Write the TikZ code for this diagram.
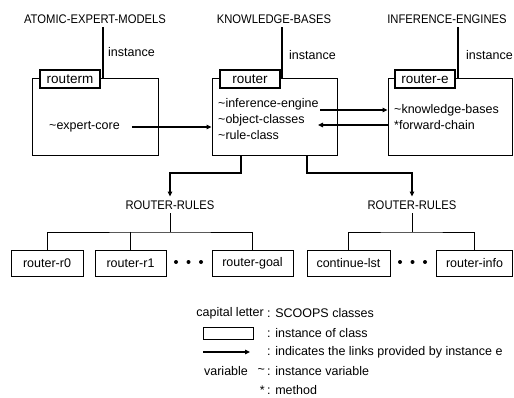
\documentclass[tikz,border=0pt]{standalone}
\usepackage{fontspec}
\setmainfont{Liberation Sans}
\newfontfamily\capsfont[FakeStretch=0.9]{Liberation Sans}
\usetikzlibrary{arrows.meta}

\begin{document}
\begin{tikzpicture}[x=1pt,y=-1pt,
  title/.style={font=\capsfont\fontsize{12.5}{14}\selectfont, inner sep=0pt, outer sep=4pt},
  txt/.style={font=\fontsize{12.5}{14}\selectfont, inner sep=0pt},
  frame/.style={draw, line width=0.9pt, inner sep=0pt},
  tabbox/.style={draw, fill=white, line width=1.1pt, inner sep=0pt,
    minimum height=18pt, font=\fontsize{13.5}{15}\selectfont},
  leaf/.style={draw, line width=0.9pt, inner sep=0pt, minimum height=26pt,
    font=\fontsize{12.5}{14}\selectfont},
  classline/.style={line width=1.6pt},
  link/.style={line width=1.1pt, -{Triangle[length=5pt,width=4.5pt]}},
  tree/.style={line width=0.9pt},
  dot/.style={circle, fill=black, inner sep=0pt, minimum size=4pt}
]
\useasboundingbox (0,0) rectangle (514,398);

% ---- classes on top ----
\node[title] (atomic) at (95,19) {ATOMIC-EXPERT-MODELS};
\node[title] (kb) at (274,19) {KNOWLEDGE-BASES};
\node[title] (ie) at (447,19) {INFERENCE-ENGINES};

% ---- instance frames ----
\node[frame, minimum width=126pt, minimum height=77pt] (mbox) at (95,116.5) {};
\node[frame, minimum width=125pt, minimum height=77pt] (rbox) at (274.5,116.5) {};
\node[frame, minimum width=124pt, minimum height=77pt] (ebox) at (450,116.5) {};

\node[tabbox, minimum width=60pt] (mtab) at (70,79) {routerm};
\node[tabbox, minimum width=60pt] (rtab) at (250,79) {router};
\node[tabbox, minimum width=60pt] (etab) at (425,79) {router-e};

% instance links from the classes
\coordinate (ja) at (103,78);
\coordinate (jk) at (282,78);
\coordinate (je) at (458,78);
\draw[classline] (ja |- atomic.south) -- (ja);
\draw[classline] (jk |- kb.south) -- (jk);
\draw[classline] (je |- ie.south) -- (je);
\node[txt, anchor=west] (ia) at (108,52) {instance};
\node[txt, anchor=west] (ik) at (289,55) {instance};
\node[txt, anchor=west] (ii) at (466,55) {instance};

% ---- contents ----
\node[txt, anchor=west] (core) at (49,127) {\textasciitilde expert-core};

\node[txt, anchor=west] (infeng) at (218,104) {\textasciitilde inference-engine};
\node[txt, anchor=west] (objcls) at (218,120) {\textasciitilde object-classes};
\node[txt, anchor=west] (rulecls) at (218,135) {\textasciitilde rule-class};

\node[txt, anchor=west] (kbases) at (394,110) {\textasciitilde knowledge-bases};
\node[txt, anchor=west] (fwd) at (394,125) {*forward-chain};

% links between instances
\draw[link] (core.east) ++(12,0) coordinate (cs) -- (cs -| rbox.west);
\coordinate (ra) at (320,110);
\coordinate (rb) at (318,125);
\draw[link] (ra) -- (ra -| ebox.west);
\draw[link] (rb -| ebox.west) -- (rb);

% ---- rule classes ----
\node[title] (rulesL) at (170,205) {ROUTER-RULES};
\node[title] (rulesR) at (412,205) {ROUTER-RULES};

\coordinate (dl) at (241,173);
\coordinate (dr) at (307,173);
\draw[link] (dl |- rbox.south) -- (dl) -| (rulesL.north);
\draw[link] (dr |- rbox.south) -- (dr) -| (rulesR.north);

% ---- rule instances ----
\node[leaf, minimum width=72pt] (r0) at (47,263) {router-r0};
\node[leaf, minimum width=71pt] (r1) at (130.5,263) {router-r1};
\node[leaf, minimum width=81pt] (rg) at (252.5,263) {router-goal};
\node[leaf, minimum width=83pt] (cl) at (348.5,263) {continue-lst};
\node[leaf, minimum width=76pt] (ri) at (474.5,263) {router-info};

\node[dot] (d1) at (176,262) {};
\node[dot] (d2) at (188.5,262) {};
\node[dot] (d3) at (201,262) {};
\node[dot] (d4) at (400,262) {};
\node[dot] (d5) at (412.5,262) {};
\node[dot] (d6) at (425,262) {};

\coordinate (bl) at (170,232);
\coordinate (br) at (412,232);
\draw[tree] (rulesL.south) -- (bl);
\draw[tree] (r0.north) |- (bl) -| (rg.north);
\draw[tree] (bl -| r1.north) -- (r1.north);
\draw[tree] (rulesR.south) -- (br);
\draw[tree] (cl.north) |- (br) -| (ri.north);

% ---- legend ----
\node[txt, anchor=east] (lgcap) at (264,313) {capital letter};
\node[txt, anchor=west] (lgcapt) at (267,313) {: SCOOPS classes};
\node[frame, minimum width=50pt, minimum height=12pt] (lgbox) at (228,333) {};
\node[txt, anchor=west] (lgboxt) at (267,333) {: instance of class};
\coordinate (lga) at (203,352);
\coordinate (lgb) at (250,352);
\draw[link] (lga) -- (lgb);
\node[txt, anchor=west] (lgarrt) at (267,352) {: indicates the links provided by instance e};
\node[txt] (lgvar) at (226,371) {variable};
\node[txt, anchor=east] (lgtil) at (265,371) {\textasciitilde};
\node[txt, anchor=west] (lgtilt) at (267,371) {: instance variable};
\node[txt, anchor=east] (lgast) at (265,390) {*};
\node[txt, anchor=west] (lgastt) at (267,390) {: method};
\end{tikzpicture}
\end{document}
